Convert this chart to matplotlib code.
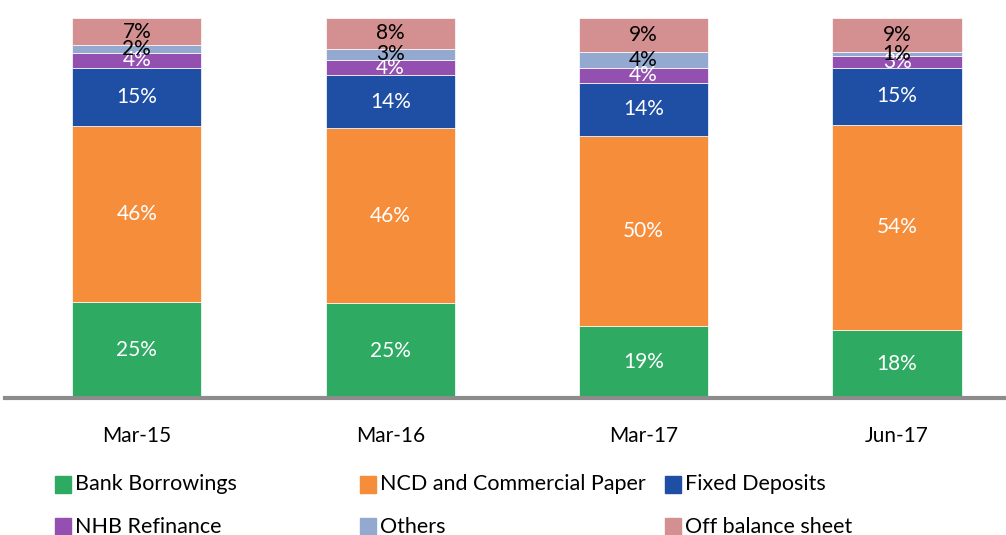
import matplotlib

matplotlib.use("Agg")
import matplotlib.pyplot as plt
import numpy as np
from matplotlib.patches import Rectangle

plt.rcParams["font.family"] = ["Lato", "DejaVu Sans"]

periods = ["Mar-15", "Mar-16", "Mar-17", "Jun-17"]
series = ["Bank Borrowings", "NCD and Commercial Paper", "Fixed Deposits",
          "NHB Refinance", "Others", "Off balance sheet"]
bank = [25, 25, 19, 18]
ncd = [46, 46, 50, 54]
fixed = [15, 14, 14, 15]
nhb = [4, 4, 4, 3]
others = [2, 3, 4, 1]
off_bs = [7, 8, 9, 9]

colors = ["#2eaa62", "#f68d3a", "#1f4ea5", "#9450b0", "#94a9d0", "#d49090"]
label_colors = ["white", "white", "white", "white", "black", "black"]

values = np.array([bank, ncd, fixed, nhb, others, off_bs], dtype=float)
shares = values / values.sum(axis=0) * 100  # 100% stacked, like the source chart

fig = plt.figure(figsize=(10.06, 5.35), dpi=100)
ax = fig.add_axes([0.005, 0.256, 0.995, 0.71])

x = np.arange(len(periods))
bottom = np.zeros(len(periods))
for i, name in enumerate(series):
    ax.bar(x, shares[i], 0.51, bottom=bottom, color=colors[i],
           edgecolor="white", linewidth=0.5, label=name)
    for j in range(len(periods)):
        ax.text(x[j], bottom[j] + shares[i][j] / 2, f"{values[i][j]:.0f}%",
                ha="center", va="center", fontsize=15, color=label_colors[i])
    bottom += shares[i]

ax.set_xlim(-0.52, 3.43)
ax.set_ylim(0, 100)
ax.set_xticks(x)
ax.set_xticklabels(periods, fontsize=15)
ax.tick_params(axis="x", length=0, pad=20)
ax.set_yticks([])
for side in ["top", "left", "right"]:
    ax.spines[side].set_visible(False)
ax.spines["bottom"].set_color("#8c8c8c")
ax.spines["bottom"].set_linewidth(3)

# legend laid out by hand to match the source column spacing
leg_x = [0.055, 0.358, 0.661]
leg_y = [0.095, 0.015]
for k, name in enumerate(series):
    cx = leg_x[k % 3]
    cy = leg_y[k // 3]
    fig.patches.append(Rectangle((cx, cy - 0.016), 0.0155, 0.032,
                                 transform=fig.transFigure, color=colors[k]))
    fig.text(cx + 0.02, cy, name, fontsize=15.5, va="center", ha="left")

fig.savefig("out.png", dpi=100)
